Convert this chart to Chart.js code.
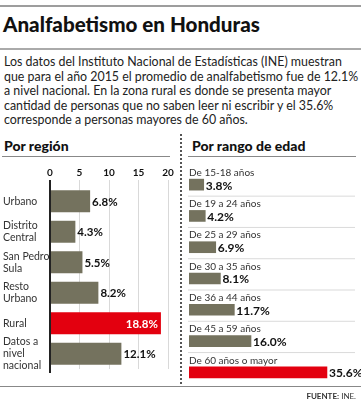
<!DOCTYPE html>
<html>
<head>
<meta charset="utf-8">
<script src="https://cdn.jsdelivr.net/npm/chart.js@4"></script>
<style>
  body { margin: 0; width: 361px; height: 400px; background: #fff; overflow: hidden; position: relative; font-family: Lato, sans-serif; color: #222; }
  .abs { position: absolute; }
  .rule { position: absolute; background: #9d9d9d; }
  #title { left: 3px; top: 12px; font: 900 20.6px Lato, sans-serif; color: #111; white-space: nowrap; }
  #intro { left: 4px; top: 55px; font: 12.4px Lato, sans-serif; line-height: 14.6px; color: #222; white-space: nowrap; }
  .head { top: 137px; font: 900 14px Lato, sans-serif; color: #111; white-space: nowrap; }
  #source { right: 5px; top: 391px; font: 8px Lato, sans-serif; color: #333; }
  #dots { left: 180px; top: 134px; height: 250px; border-left: 2px dotted #555; }
</style>
</head>
<body>
<div class="rule" style="left:0;top:5px;width:361px;height:2px"></div>
<div id="title" class="abs">Analfabetismo en Honduras</div>
<div class="rule" style="left:0;top:48px;width:361px;height:1.5px;background:#aaa"></div>
<div id="intro" class="abs">Los datos del Instituto Nacional de Estadísticas (INE) muestran<br>que para el año 2015 el promedio de analfabetismo fue de 12.1%<br>a nivel nacional. En la zona rural es donde se presenta mayor<br>cantidad de personas que no saben leer ni escribir y el 35.6%<br>corresponde a personas mayores de 60 años.</div>

<div class="abs head" style="left:4px">Por región</div>
<div class="rule" style="left:2px;top:156px;width:168px;height:1px;background:#888"></div>
<div class="abs head" style="left:192px">Por rango de edad</div>
<div class="rule" style="left:188px;top:156px;width:168px;height:1px;background:#888"></div>
<div id="dots" class="abs"></div>

<canvas id="regionChart" class="abs" style="left:0;top:162px" width="180" height="215"></canvas>
<canvas id="ageChart" class="abs" style="left:183px;top:162px" width="178" height="228"></canvas>

<div class="rule" style="left:0;top:386px;width:361px;height:1px;background:#888"></div>
<div id="source" class="abs"><b>FUENTE:</b> INE.</div>

<script>
// Data
const regionLabels = [['Urbano'], ['Distrito', 'Central'], ['San Pedro', 'Sula'], ['Resto', 'Urbano'], ['Rural'], ['Datos a', 'nivel', 'nacional']];
const regionValues = [6.8, 4.3, 5.5, 8.2, 18.8, 12.1];
const regionTicks = [0, 5, 10, 15, 20];

const ageLabels = ['De 15-18 años', 'De 19 a 24 años', 'De 25 a 29 años', 'De 30 a 35 años', 'De 36 a 44 años', 'De 45 a 59 años', 'De 60 años o mayor'];
const ageValues = [3.8, 4.2, 6.9, 8.1, 11.7, 16.0, 35.6];

const OLIVE = '#74725e';
const RED = '#e3000f';

Chart.defaults.font.family = 'Lato, sans-serif';
Chart.defaults.animation = false;

// value labels at the end of each bar; the highlighted one goes inside in white
const valueLabels = {
  id: 'valueLabels',
  afterDatasetsDraw(chart, args, opts) {
    const ctx = chart.ctx;
    const ds = chart.data.datasets[0];
    chart.getDatasetMeta(0).data.forEach((bar, i) => {
      const txt = ds.data[i].toFixed(1) + '%';
      ctx.save();
      ctx.font = 'bold ' + opts.size + 'px Lato, sans-serif';
      ctx.textBaseline = 'middle';
      if (opts.inside && opts.inside.includes(i)) {
        ctx.fillStyle = '#fff';
        ctx.textAlign = 'right';
        ctx.fillText(txt, bar.x - 3, bar.y + 1);
      } else {
        ctx.fillStyle = '#111';
        ctx.textAlign = 'left';
        ctx.fillText(txt, bar.x + 2, bar.y + 1);
      }
      ctx.restore();
    });
  }
};

// zero line running the full height of the left chart
const zeroLine = {
  id: 'zeroLine',
  afterDatasetsDraw(chart) {
    const x = chart.scales.x.getPixelForValue(0);
    const a = chart.chartArea;
    const ctx = chart.ctx;
    ctx.save();
    ctx.fillStyle = '#222';
    ctx.fillRect(x - 1, a.top - 6, 2, a.bottom - a.top + 10);
    ctx.restore();
  }
};

// category text above each bar and thin separators for the right chart
const rowLabels = {
  id: 'rowLabels',
  afterDatasetsDraw(chart) {
    const ctx = chart.ctx;
    const a = chart.chartArea;
    const meta = chart.getDatasetMeta(0);
    ctx.save();
    meta.data.forEach((bar, i) => {
      ctx.font = '10px Lato, sans-serif';
      ctx.fillStyle = '#333';
      ctx.textAlign = 'left';
      ctx.textBaseline = 'middle';
      ctx.fillText(chart.data.labels[i], a.left, bar.y - 12);
      if (i < meta.data.length - 1) {
        ctx.fillStyle = '#dadada';
        ctx.fillRect(a.left - 1, bar.y + 11, 173 - a.left, 1);
      }
    });
    ctx.restore();
  }
};

new Chart(document.getElementById('regionChart'), {
  type: 'bar',
  data: {
    labels: regionLabels,
    datasets: [{
      data: regionValues,
      backgroundColor: regionValues.map((v, i) => i === 4 ? RED : OLIVE),
      barPercentage: 0.72,
      categoryPercentage: 1
    }]
  },
  options: {
    indexAxis: 'y',
    responsive: false,
    layout: { padding: { left: 3, right: 12, top: 0, bottom: 8 } },
    plugins: {
      legend: { display: false },
      tooltip: { enabled: false },
      valueLabels: { size: 11.5, inside: [4] }
    },
    scales: {
      x: {
        position: 'top',
        min: 0,
        max: 20,
        afterBuildTicks: s => { s.ticks = regionTicks.map(v => ({ value: v })); },
        afterFit: s => { s.height = 24; },
        grid: { color: '#d9d9d9', lineWidth: 1, drawTicks: true, tickLength: 6 },
        border: { display: false },
        ticks: { color: '#111', font: { size: 10, weight: 'bold' }, padding: 1, maxRotation: 0 }
      },
      y: {
        afterFit: s => { s.width = 47; },
        grid: { display: false },
        border: { display: false },
        ticks: { color: '#333', crossAlign: 'far', autoSkip: false, font: { size: 10.5, lineHeight: 1.15 }, padding: 0 }
      }
    }
  },
  plugins: [valueLabels, zeroLine]
});

new Chart(document.getElementById('ageChart'), {
  type: 'bar',
  data: {
    labels: ageLabels,
    datasets: [{
      data: ageValues,
      backgroundColor: ageValues.map((v, i) => i === ageValues.length - 1 ? RED : OLIVE),
      barThickness: 11
    }]
  },
  options: {
    indexAxis: 'y',
    responsive: false,
    layout: { padding: { left: 6, right: 17, top: 7, bottom: 2 } },
    plugins: {
      legend: { display: false },
      tooltip: { enabled: false },
      valueLabels: { size: 12, inside: [] }
    },
    scales: {
      x: { display: false, min: 0, max: 40 },
      y: { display: false }
    }
  },
  plugins: [valueLabels, rowLabels]
});
</script>
</body>
</html>
